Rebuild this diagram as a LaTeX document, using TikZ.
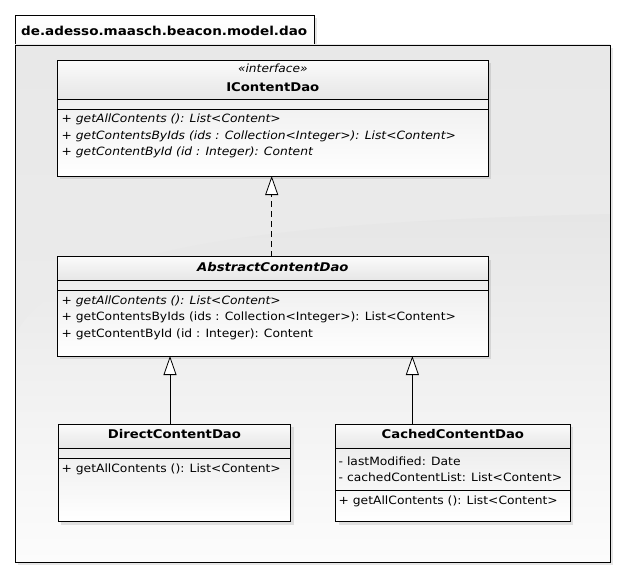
\documentclass[tikz,border=0pt]{standalone}
\usepackage{fontspec}
\setmainfont{DejaVu Sans}
\newfontfamily\memberfont[FakeStretch=1.08]{DejaVu Sans}
\newfontfamily\namefont[FakeStretch=1.10]{DejaVu Sans}
\usetikzlibrary{arrows.meta}
\definecolor{bgtopA}{HTML}{E8E8E8}
\definecolor{bgtopB}{HTML}{EEEEEE}
\definecolor{bgcurve}{HTML}{E6E6E6}
\definecolor{bgbot}{HTML}{FCFCFC}
\definecolor{hdtop}{HTML}{FAFAFA}
\definecolor{hdbot}{HTML}{E6E6E6}
\definecolor{bdtop}{HTML}{E8E8E8}
\definecolor{bdbot}{HTML}{FFFFFF}
\tikzset{
  classbox/.style={draw=black, line width=0.9pt, rectangle, inner sep=0pt, outer sep=0pt, top color=bdtop, bottom color=bdbot},
  shadowbox/.style={fill=black, opacity=0.10},
  member/.style={anchor=base west, inner sep=0pt, font=\fontsize{11.4}{13}\memberfont},
  imember/.style={member, font=\fontsize{11.4}{13}\memberfont\itshape},
  cname/.style={anchor=base, inner sep=0pt, font=\fontsize{12}{14}\namefont\bfseries},
  stereo/.style={anchor=base, inner sep=0pt, font=\fontsize{11.3}{12}\memberfont\itshape},
  extends/.style={draw=black, line width=0.8pt, -{Triangle[open, fill=white, length=19pt, width=13pt, line width=0.8pt]}},
  implements/.style={extends, dash pattern=on 6pt off 4pt}
}
\begin{document}
\begin{tikzpicture}[x=1pt, y=-1pt]
\useasboundingbox (0,0) rectangle (626,578);
\fill[white] (0,0) rectangle (626,578);
% package shadow
\fill[shadowbox] (18,18) rectangle (317,48);
\fill[shadowbox] (18,48) rectangle (613,565);
% package tab
\shade[top color=white, bottom color=hdtop, draw=black, line width=0.9pt] (15,15) rectangle (314,45);
\node[anchor=base west, inner sep=0pt, font=\fontsize{12.3}{14}\namefont\bfseries] (pkgname) at (21,35.5) {de.adesso.maasch.beacon.model.dao};
% package body
\shade[top color=bgtopA, bottom color=bgtopB] (15,45) rectangle (610,562);
\shade[top color=bgcurve, bottom color=bgbot] (15,335) .. controls (60,250) and (250,222) .. (610,214) -- (610,562) -- (15,562) -- cycle;
\draw[black, line width=0.9pt] (15,45) rectangle (610,562);

% IContentDao
\fill[shadowbox] (60,63) rectangle (491,179);
\node[classbox, minimum width=431pt, minimum height=116pt] (icd) at (272.8,118) {};
\shade[top color=hdtop, bottom color=hdbot] ([xshift=0.45pt,yshift=-0.45pt]icd.north west) rectangle ([xshift=-0.45pt]icd.east |- 0,99.3);
\draw[line width=0.9pt] (icd.north west) rectangle (icd.south east);
\draw[line width=0.9pt] (icd.west |- 0,99.3) -- (icd.east |- 0,99.3);
\draw[line width=0.9pt] (icd.west |- 0,109.3) -- (icd.east |- 0,109.3);
\node[stereo] at (272.8,72) {«interface»};
\node[cname] at (272.8,91.5) {IContentDao};
\node[imember] at (61.5,122.5) {+ getAllContents (): List<Content>};
\node[imember] at (61.5,139) {+ getContentsByIds (ids : Collection<Integer>): List<Content>};
\node[imember] at (61.5,155.5) {+ getContentById (id : Integer): Content};

% AbstractContentDao
\fill[shadowbox] (60,259.7) rectangle (491,359);
\node[classbox, minimum width=431pt, minimum height=99.3pt] (acd) at (272.8,306.35) {};
\shade[top color=hdtop, bottom color=hdbot] ([xshift=0.45pt,yshift=-0.45pt]acd.north west) rectangle ([xshift=-0.45pt]acd.east |- 0,280.3);
\draw[line width=0.9pt] (acd.north west) rectangle (acd.south east);
\draw[line width=0.9pt] (acd.west |- 0,280.3) -- (acd.east |- 0,280.3);
\draw[line width=0.9pt] (acd.west |- 0,290.3) -- (acd.east |- 0,290.3);
\node[cname, font=\fontsize{12}{14}\namefont\bfseries\itshape] at (272.8,271.5) {AbstractContentDao};
\node[imember] at (61.5,304) {+ getAllContents (): List<Content>};
\node[member] at (61.5,320.3) {+ getContentsByIds (ids : Collection<Integer>): List<Content>};
\node[member] at (61.5,337) {+ getContentById (id : Integer): Content};

% DirectContentDao
\fill[shadowbox] (61.3,427.3) rectangle (293.5,524.5);
\node[classbox, minimum width=232.2pt, minimum height=97.2pt] (dcd) at (174.4,472.9) {};
\shade[top color=hdtop, bottom color=hdbot] ([xshift=0.45pt,yshift=-0.45pt]dcd.north west) rectangle ([xshift=-0.45pt]dcd.east |- 0,448.3);
\draw[line width=0.9pt] (dcd.north west) rectangle (dcd.south east);
\draw[line width=0.9pt] (dcd.west |- 0,448.3) -- (dcd.east |- 0,448.3);
\draw[line width=0.9pt] (dcd.west |- 0,458.3) -- (dcd.east |- 0,458.3);
\node[cname] at (174.4,438.5) {DirectContentDao};
\node[member] at (61.5,472) {+ getAllContents (): List<Content>};

% CachedContentDao
\fill[shadowbox] (338.7,427.3) rectangle (573,524.7);
\node[classbox, minimum width=234.3pt, minimum height=97.4pt] (ccd) at (452.85,473) {};
\shade[top color=hdtop, bottom color=hdbot] ([xshift=0.45pt,yshift=-0.45pt]ccd.north west) rectangle ([xshift=-0.45pt]ccd.east |- 0,448.3);
\draw[line width=0.9pt] (ccd.north west) rectangle (ccd.south east);
\draw[line width=0.9pt] (ccd.west |- 0,448.3) -- (ccd.east |- 0,448.3);
\draw[line width=0.9pt] (ccd.west |- 0,490.7) -- (ccd.east |- 0,490.7);
\node[cname] at (452.85,438.5) {CachedContentDao};
\node[member] at (338.5,465) {- lastModified: Date};
\node[member] at (338.5,481) {- cachedContentList: List<Content>};
\node[member] at (338.5,504.3) {+ getAllContents (): List<Content>};

% connectors
\draw[implements] ([xshift=-1.1pt]acd.north) -- ([xshift=-1.1pt]icd.south);
\draw[extends] ([xshift=-4.4pt]dcd.north) -- ([xshift=-4.4pt]dcd.north |- acd.south);
\draw[extends] ([xshift=-40.5pt]ccd.north) -- ([xshift=-40.5pt]ccd.north |- acd.south);
\end{tikzpicture}
\end{document}
